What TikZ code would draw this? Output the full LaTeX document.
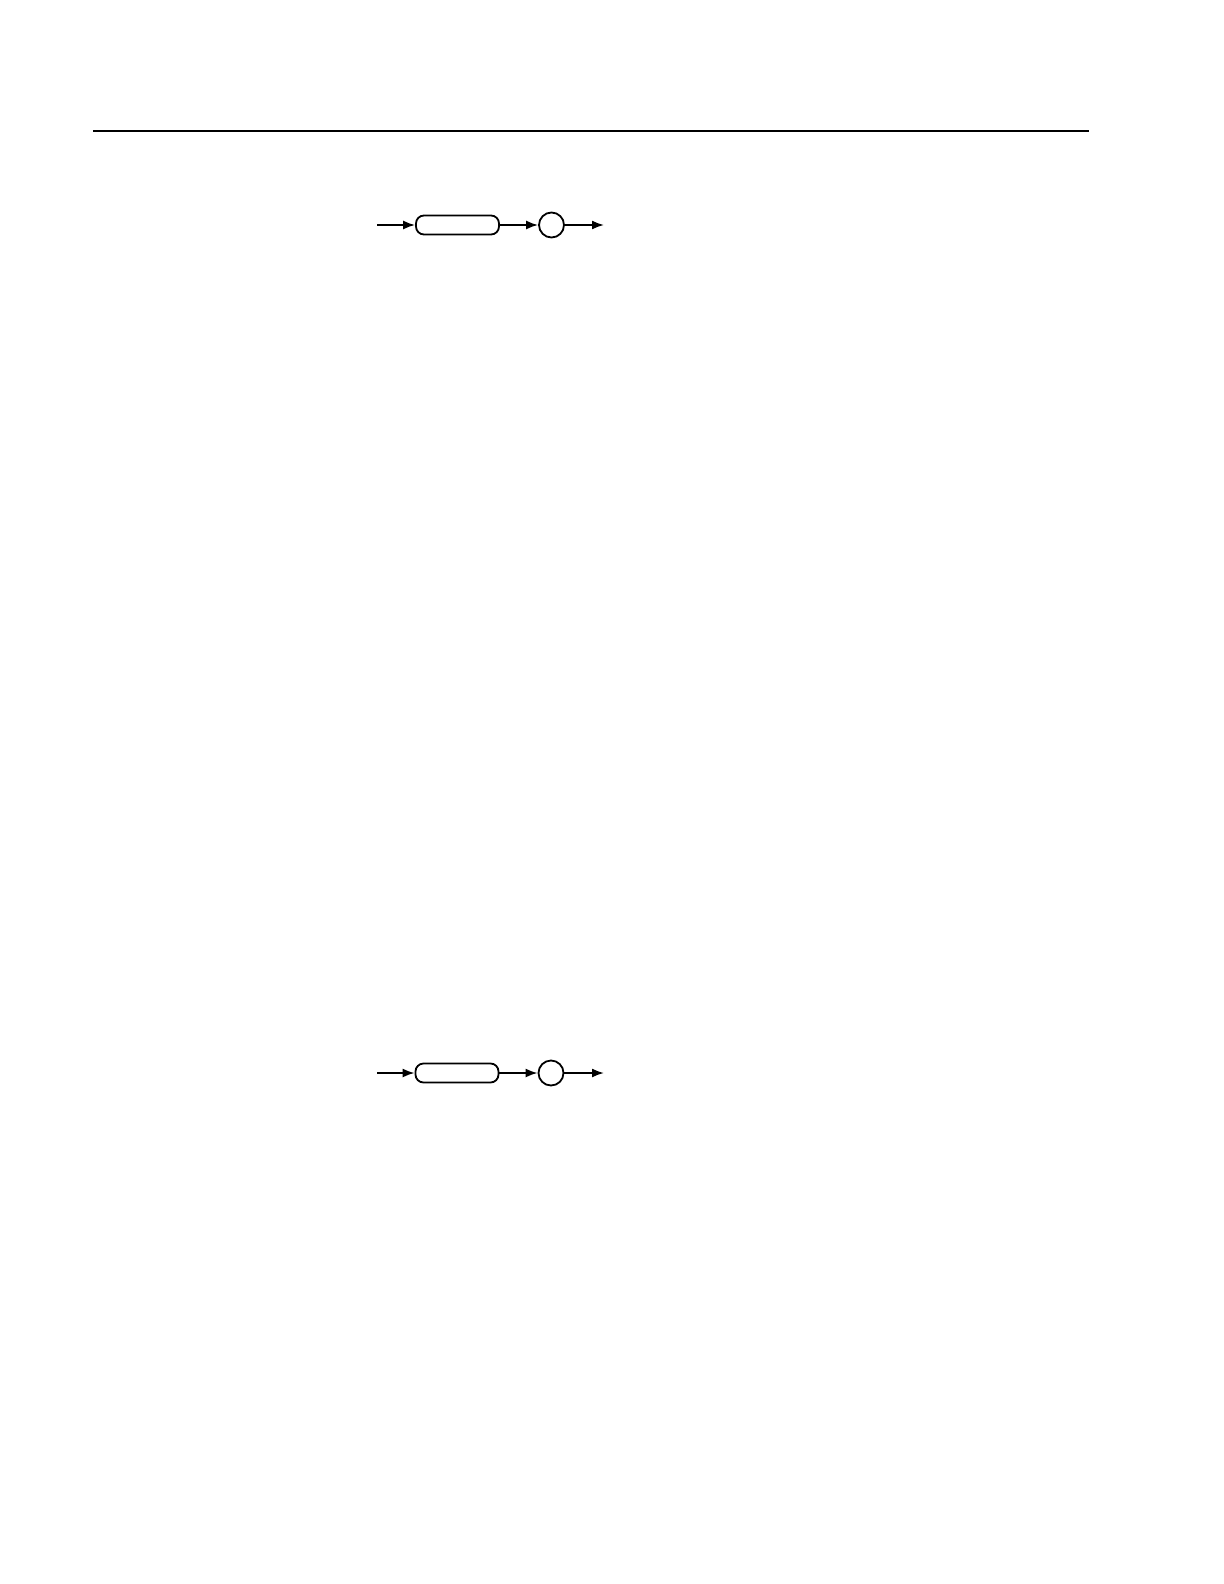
\documentclass[tikz,border=0pt]{standalone}
\usepackage{amsmath}
\usepackage{amssymb}
\usetikzlibrary{arrows.meta}

\begin{document}
\begin{tikzpicture}[x=0.5pt,y=-0.5pt,line width=0.9pt,
    kwbox/.style={draw,rounded corners=4pt,minimum width=41.5pt,minimum height=9.5pt,inner sep=0pt},
    endmark/.style={draw,circle,minimum size=12.5pt,inner sep=0pt},
    flow/.style={-{Latex[length=6pt,width=4.5pt]}}]
                \useasboundingbox (0,0) rectangle (1224,1584);
                \draw [line width=0.7pt] (93,131) -- (1089,131);
                % upper diagram
                \coordinate (ina) at (377,225);
                \node [kwbox] (kwa) at (457.5,225) {};
                \node [endmark] (enda) at (551.5,225) {};
                \coordinate (outa) at (604,225);
                \draw [flow] (ina) -- (kwa);
                \draw [flow] (kwa) -- (enda);
                \draw [flow] (enda) -- (outa);
                % lower diagram
                \coordinate (inb) at (377,1073);
                \node [kwbox] (kwb) at (457,1073) {};
                \node [endmark] (endb) at (551,1073) {};
                \coordinate (outb) at (604,1073);
                \draw [flow] (inb) -- (kwb);
                \draw [flow] (kwb) -- (endb);
                \draw [flow] (endb) -- (outb);
            \end{tikzpicture}
\end{document}
